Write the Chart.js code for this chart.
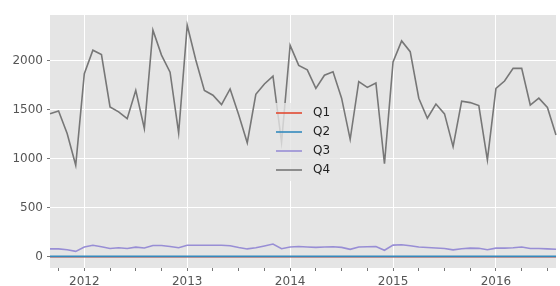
<!DOCTYPE html>
<html>
<head>
  <script src="https://cdn.jsdelivr.net/npm/chart.js@4/dist/chart.umd.min.js"></script>
  <style>
    body { margin: 0; background: #fff; }
  </style>
</head>
<body>
  <canvas id="quarters" width="560" height="286"></canvas>
  <script>
    var months = [
      '2011-09', '2011-10', '2011-11', '2011-12',
      '2012-01', '2012-02', '2012-03', '2012-04', '2012-05', '2012-06', '2012-07', '2012-08', '2012-09', '2012-10', '2012-11', '2012-12',
      '2013-01', '2013-02', '2013-03', '2013-04', '2013-05', '2013-06', '2013-07', '2013-08', '2013-09', '2013-10', '2013-11', '2013-12',
      '2014-01', '2014-02', '2014-03', '2014-04', '2014-05', '2014-06', '2014-07', '2014-08', '2014-09', '2014-10', '2014-11', '2014-12',
      '2015-01', '2015-02', '2015-03', '2015-04', '2015-05', '2015-06', '2015-07', '2015-08', '2015-09', '2015-10', '2015-11', '2015-12',
      '2016-01', '2016-02', '2016-03', '2016-04', '2016-05', '2016-06', '2016-07', '2016-08'
    ];

    var q1 = [
      0, 0, 0, 0,
      0, 0, 0, 0, 0, 0, 0, 0, 0, 0, 0, 0,
      0, 0, 0, 0, 0, 0, 0, 0, 0, 0, 0, 0,
      0, 0, 0, 0, 0, 0, 0, 0, 0, 0, 0, 0,
      0, 0, 0, 0, 0, 0, 0, 0, 0, 0, 0, 0,
      0, 0, 0, 0, 0, 0, 0, 0
    ];

    var q2 = [
      4, 4, 4, 4,
      4, 4, 4, 4, 4, 4, 4, 4, 4, 4, 4, 4,
      4, 4, 4, 4, 4, 4, 4, 4, 4, 4, 4, 4,
      4, 4, 4, 4, 4, 4, 4, 4, 4, 4, 4, 4,
      4, 4, 4, 4, 4, 4, 4, 4, 4, 4, 4, 4,
      4, 4, 4, 4, 4, 4, 4, 4
    ];

    var q3 = [
      80, 80, 72, 55,
      100, 118, 102, 85, 92, 85, 98, 90, 115, 115, 105, 92,
      118, 118, 117, 117, 117, 113, 95, 80, 92, 110, 130, 82,
      99, 105, 100, 96, 99, 102, 96, 76, 99, 102, 105, 66,
      119, 122, 112, 99, 95, 90, 84, 70, 82, 88, 86, 72,
      88, 88, 92, 99, 85, 85, 80, 76
    ];

    var q4 = [
      1460, 1490, 1260, 935,
      1870, 2110, 2065, 1530, 1480, 1410, 1700, 1310, 2315, 2060, 1885, 1265,
      2365, 2010, 1700, 1650, 1555, 1715, 1450, 1165, 1660, 1765, 1845, 1170,
      2160, 1955, 1910, 1720, 1855, 1890, 1620, 1200, 1790, 1730, 1775, 950,
      1990, 2205, 2095, 1620, 1415, 1560, 1460, 1125, 1590, 1575, 1545, 990,
      1720, 1795, 1925, 1925, 1550, 1620, 1525, 1245
    ];

    var yTicks = [0, 500, 1000, 1500, 2000];

    var font = { family: 'DejaVu Sans', size: 12 };

    function isJanuary(i) {
      return months[i] && months[i].slice(5) === '01';
    }

    function isQuarter(i) {
      var m = months[i] ? months[i].slice(5) : '';
      return m === '01' || m === '04' || m === '07' || m === '10';
    }

    // grey panel behind the lines
    var panel = {
      id: 'panel',
      beforeDraw: function (chart) {
        var a = chart.chartArea, ctx = chart.ctx;
        ctx.save();
        ctx.fillStyle = '#E5E5E5';
        ctx.fillRect(a.left, a.top, a.right - a.left, a.bottom - a.top);
        ctx.restore();
      }
    };

    // matplotlib-like legend in the middle of the plot
    var centerLegend = {
      id: 'centerLegend',
      afterDraw: function (chart) {
        var a = chart.chartArea, ctx = chart.ctx;
        var sets = chart.data.datasets;
        var rowH = 19, w = 70, h = sets.length * rowH + 2;
        var x = Math.round((a.left + a.right) / 2 - w / 2) + 2;
        var y = Math.round((a.top + a.bottom) / 2 - h / 2);
        ctx.save();
        ctx.fillStyle = 'rgba(229,229,229,0.8)';
        ctx.beginPath();
        ctx.roundRect(x, y, w, h, 3);
        ctx.fill();
        ctx.font = '12px "DejaVu Sans"';
        ctx.textBaseline = 'middle';
        sets.forEach(function (ds, i) {
          var cy = y + 10 + i * rowH;
          ctx.strokeStyle = ds.borderColor;
          ctx.lineWidth = 1.6;
          ctx.beginPath();
          ctx.moveTo(x + 6, cy);
          ctx.lineTo(x + 32, cy);
          ctx.stroke();
          ctx.fillStyle = '#222';
          ctx.fillText(ds.label, x + 43, cy);
        });
        ctx.restore();
      }
    };

    new Chart(document.getElementById('quarters').getContext('2d'), {
      type: 'line',
      data: {
        labels: months,
        datasets: [
          { label: 'Q1', data: q1, borderColor: '#E24A33', order: 4 },
          { label: 'Q2', data: q2, borderColor: '#348ABD', order: 3 },
          { label: 'Q3', data: q3, borderColor: '#988ED5', order: 2 },
          { label: 'Q4', data: q4, borderColor: '#777777', order: 1 }
        ]
      },
      options: {
        responsive: false,
        animation: false,
        layout: { padding: { top: 15, right: 0, bottom: 0, left: 0 } },
        elements: {
          point: { radius: 0 },
          line: { borderWidth: 1.6, tension: 0, fill: false }
        },
        plugins: {
          legend: { display: false },
          tooltip: { enabled: false }
        },
        scales: {
          x: {
            type: 'category',
            offset: false,
            border: { display: false },
            grid: {
              color: function (c) { return isJanuary(c.index) ? '#FFFFFF' : 'rgba(0,0,0,0)'; },
              tickColor: function (c) { return isQuarter(c.index) ? '#777777' : 'rgba(0,0,0,0)'; },
              tickLength: 3,
              lineWidth: 1
            },
            ticks: {
              autoSkip: false,
              maxRotation: 0,
              minRotation: 0,
              padding: 4,
              color: '#555555',
              font: font,
              callback: function (v, i) {
                return isJanuary(i) ? months[i].slice(0, 4) : '';
              }
            },
            afterFit: function (s) { s.height = 18; }
          },
          y: {
            min: -115,
            max: 2470,
            border: { display: false },
            grid: { color: '#FFFFFF', tickColor: '#777777', tickLength: 3, lineWidth: 1 },
            afterBuildTicks: function (s) {
              s.ticks = yTicks.map(function (v) { return { value: v }; });
            },
            ticks: {
              padding: 4,
              color: '#555555',
              font: font,
              callback: function (v) { return String(v); }
            },
            afterFit: function (s) { s.width = 50; }
          }
        }
      },
      plugins: [panel, centerLegend]
    });
  </script>
</body>
</html>
